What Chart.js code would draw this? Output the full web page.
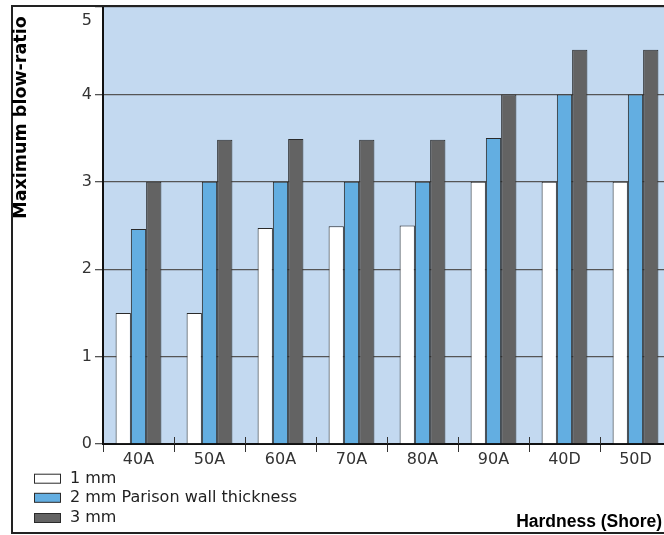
<!DOCTYPE html>
<html>
<head>
<meta charset="utf-8">
<script src="https://cdn.jsdelivr.net/npm/chart.js@4/dist/chart.umd.min.js"></script>
<style>
  html, body { margin: 0; padding: 0; background: #fff; overflow: hidden; }
  #wrap { width: 680px; height: 535px; }
</style>
</head>
<body>
<div id="wrap"><canvas id="c" width="680" height="535"></canvas></div>
<script>
const categories = ['40A', '50A', '60A', '70A', '80A', '90A', '40D', '50D'];
const seriesLabels = ['1 mm', '2 mm Parison wall thickness', '3 mm'];
const wall1mm = [1.5, 1.5, 2.47, 2.49, 2.5, 3.0, 3.0, 3.0];
const wall2mm = [2.46, 3.0, 3.0, 3.0, 3.0, 3.5, 4.0, 4.0];
const wall3mm = [3.0, 3.48, 3.49, 3.48, 3.48, 4.0, 4.51, 4.51];
const seriesColors = ['#ffffff', '#63aee1', '#636363'];
const yTitle = 'Maximum blow-ratio';
const xTitle = 'Hardness (Shore)';

const decorPlugin = {
  id: 'decor',
  beforeDraw(chart) {
    const ctx = chart.ctx, a = chart.chartArea;
    ctx.save();
    ctx.fillStyle = '#ffffff';
    ctx.fillRect(0, 0, chart.width, chart.height);
    ctx.fillStyle = '#c3d9f0';
    ctx.fillRect(a.left, a.top, a.right - a.left, a.bottom - a.top);
    ctx.restore();
  },
  afterDatasetsDraw(chart) {
    const ctx = chart.ctx, a = chart.chartArea, xs = chart.scales.x;
    ctx.save();
    ctx.strokeStyle = '#333';
    ctx.lineWidth = 1;
    for (let i = 1; i < categories.length; i++) {
      const bx = Math.round((xs.getPixelForValue(i - 1) + xs.getPixelForValue(i)) / 2) + 0.5;
      ctx.beginPath();
      ctx.moveTo(bx, a.bottom - 7);
      ctx.lineTo(bx, a.bottom);
      ctx.stroke();
    }
    ctx.restore();
  },
  afterDraw(chart) {
    const ctx = chart.ctx;
    ctx.save();
    // outer frame
    ctx.strokeStyle = '#222';
    ctx.lineWidth = 2;
    ctx.beginPath();
    ctx.moveTo(chart.width, 6);
    ctx.lineTo(12, 6);
    ctx.lineTo(12, 533);
    ctx.lineTo(chart.width, 533);
    ctx.stroke();
    // legend
    const ds = chart.data.datasets;
    const centers = [478.7, 497.8, 518];
    ctx.font = '16px "DejaVu Sans"';
    ctx.textBaseline = 'middle';
    ctx.textAlign = 'left';
    ds.forEach((d, i) => {
      ctx.fillStyle = d.backgroundColor;
      ctx.fillRect(34.5, centers[i] - 4.5, 26, 9);
      ctx.strokeStyle = '#2a2a2a';
      ctx.lineWidth = 1;
      ctx.strokeRect(34.5, centers[i] - 4.5, 26, 9);
      ctx.fillStyle = '#222';
      ctx.fillText(d.label, 70, centers[i]);
    });
    // axis titles
    ctx.fillStyle = '#000';
    ctx.font = 'bold 17.5px "Liberation Sans"';
    ctx.textAlign = 'right';
    ctx.textBaseline = 'alphabetic';
    ctx.fillText(xTitle, 662, 527);
    ctx.translate(26, 117.5);
    ctx.rotate(-Math.PI / 2);
    ctx.font = 'bold 17.5px "DejaVu Sans"';
    ctx.textAlign = 'center';
    ctx.fillText(yTitle, 0, 0);
    ctx.restore();
  }
};

new Chart(document.getElementById('c'), {
  type: 'bar',
  data: {
    labels: categories,
    datasets: [
      { label: seriesLabels[0], data: wall1mm, backgroundColor: seriesColors[0] },
      { label: seriesLabels[1], data: wall2mm, backgroundColor: seriesColors[1] },
      { label: seriesLabels[2], data: wall3mm, backgroundColor: seriesColors[2] }
    ]
  },
  options: {
    responsive: false,
    animation: false,
    devicePixelRatio: 1,
    layout: { padding: { top: 7, right: 9, bottom: 0, left: 0 } },
    datasets: {
      bar: {
        categoryPercentage: 0.645,
        barPercentage: 1,
        borderWidth: 1,
        borderColor: '#2a2a2a'
      }
    },
    plugins: {
      legend: { display: false },
      tooltip: { enabled: false },
      title: { display: false }
    },
    scales: {
      x: {
        offset: true,
        afterFit(s) { s.height = 91; s.paddingLeft = 0; s.paddingRight = 0; },
        border: { display: true, color: '#111', width: 2 },
        grid: { offset: true, drawOnChartArea: false, drawTicks: true, tickLength: 8, color: '#333', lineWidth: 1 },
        ticks: { color: '#333', font: { family: 'DejaVu Sans', size: 16 }, padding: -2, maxRotation: 0, autoSkip: false }
      },
      y: {
        min: 0,
        max: 5,
        afterFit(s) { s.width = 103; s.paddingTop = 0; s.paddingBottom = 0; },
        border: { display: true, color: '#111', width: 2 },
        grid: { color: '#555', lineWidth: 1.3, tickLength: 8, drawTicks: true },
        ticks: {
          stepSize: 1,
          padding: 3,
          color: '#333',
          font: { family: 'DejaVu Sans', size: 16, lineHeight: 1.7 },
          callback: (v) => v === 5 ? ['', '5'] : String(v)
        }
      }
    }
  },
  plugins: [decorPlugin]
});
</script>
</body>
</html>
